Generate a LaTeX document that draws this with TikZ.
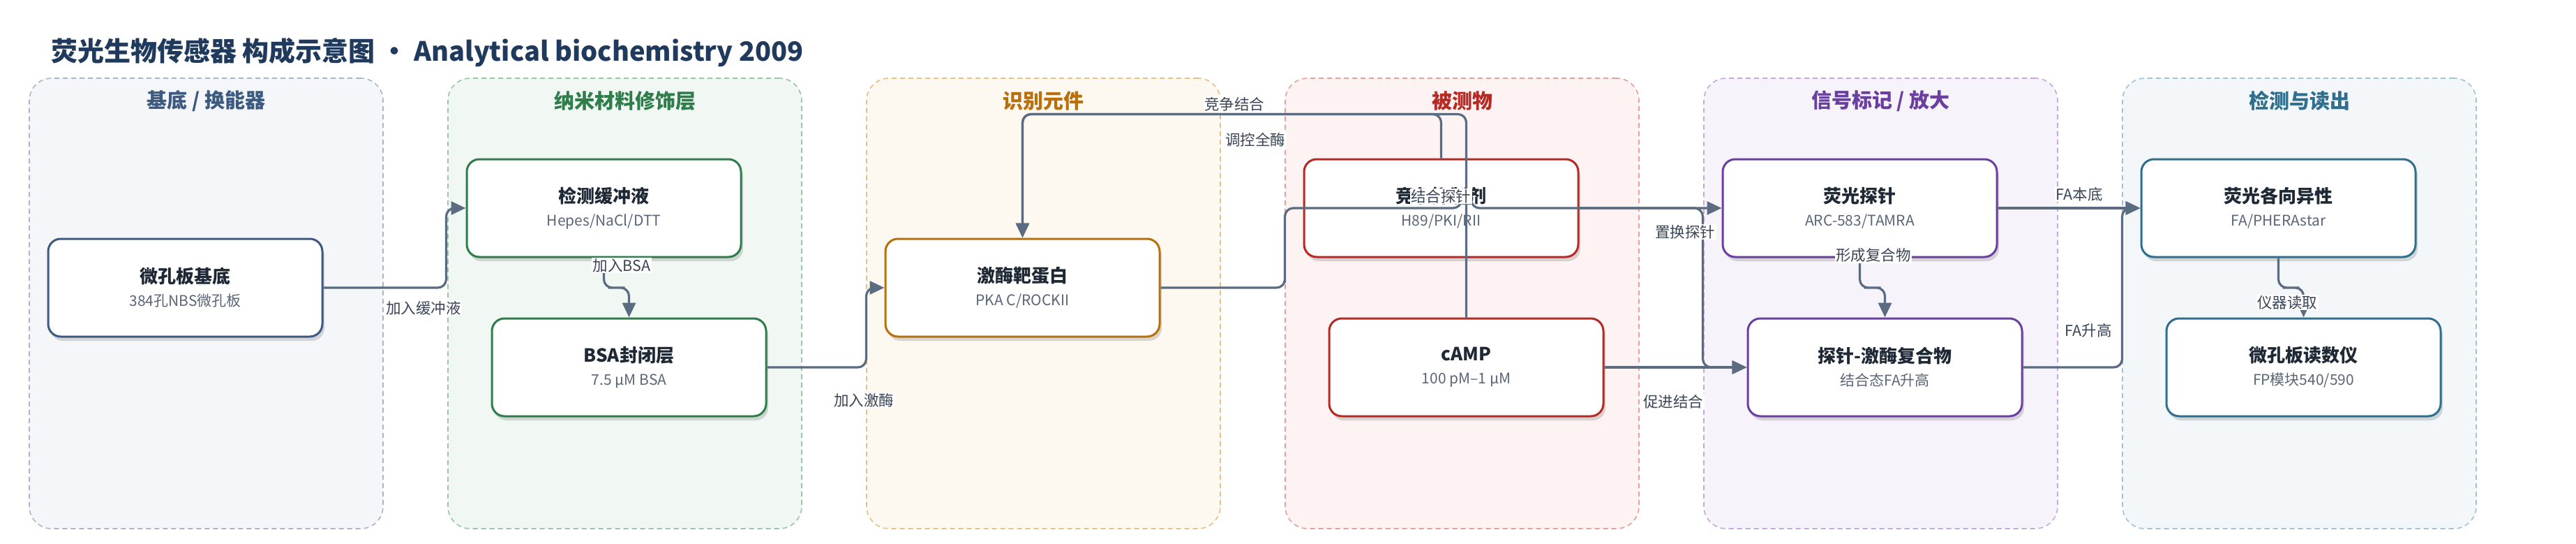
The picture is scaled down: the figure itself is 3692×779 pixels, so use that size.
\documentclass[tikz,border=0pt]{standalone}
\usepackage{fontspec}
\setmainfont{Noto Sans CJK SC}
\usetikzlibrary{arrows.meta,shadows,calc}

\definecolor{inkA}{HTML}{3D5A80}
\definecolor{fillA}{HTML}{F4F6FA}
\definecolor{dashA}{HTML}{A9B5C9}
\definecolor{inkB}{HTML}{2E7D4A}
\definecolor{fillB}{HTML}{F1F8F3}
\definecolor{dashB}{HTML}{97C7A6}
\definecolor{inkC}{HTML}{B8700C}
\definecolor{fillC}{HTML}{FDF8F0}
\definecolor{dashC}{HTML}{E8C088}
\definecolor{inkD}{HTML}{B52A25}
\definecolor{fillD}{HTML}{FDF3F2}
\definecolor{dashD}{HTML}{E5A09C}
\definecolor{inkE}{HTML}{6A3FA0}
\definecolor{fillE}{HTML}{F6F3FB}
\definecolor{dashE}{HTML}{C4A8E0}
\definecolor{inkF}{HTML}{2E6E8E}
\definecolor{fillF}{HTML}{F3F7F9}
\definecolor{dashF}{HTML}{A3C3D3}
\definecolor{headtxt}{HTML}{1F3A5C}
\definecolor{boxtxt}{HTML}{1E2935}
\definecolor{subtxt}{HTML}{5A6678}
\definecolor{wire}{HTML}{5B6B80}
\definecolor{lbltxt}{HTML}{3A4555}

\newcommand{\subln}[1]{{\mdseries\fontsize{21}{26}\selectfont\color{subtxt}#1}}

\begin{document}
\begin{tikzpicture}[x=1pt,y=-1pt,
    panel/.style={draw=dash#1,fill=fill#1,dash pattern=on 7pt off 5pt,line width=1.6pt,rounded corners=32pt,minimum width=507pt,minimum height=645pt},
    ptitle/.style={text=ink#1,font=\bfseries\fontsize{29}{34}\selectfont},
    blk/.style={draw=ink#1,fill=white,line width=3pt,rounded corners=18pt,minimum width=393pt,minimum height=140pt,align=center,text=boxtxt,font=\bfseries\fontsize{26}{30}\selectfont,drop shadow={shadow xshift=3pt,shadow yshift=-6pt,opacity=.14,fill=black}},
    link/.style={draw=wire,line width=3.2pt,rounded corners=12pt,-{Triangle[length=21pt,width=19pt]}},
    lbl/.style={fill=white,text=lbltxt,font=\fontsize{21.5}{26}\selectfont,inner sep=1.5pt}]
    \useasboundingbox (0,0) rectangle (3692,779);

    \node[anchor=west,inner sep=0pt,text=headtxt,font=\bfseries\fontsize{38}{44}\selectfont] (head) at (73,75) {荧光生物传感器 构成示意图 · Analytical biochemistry 2009};

    % columns
    \node[panel=A] (p1) at (295.5,434.5) {};
    \node[panel=B] (p2) at (895.5,434.5) {};
    \node[panel=C] (p3) at (1495.5,434.5) {};
    \node[panel=D] (p4) at (2095.5,434.5) {};
    \node[panel=E] (p5) at (2695.5,434.5) {};
    \node[panel=F] (p6) at (3295.5,434.5) {};
    \node[ptitle=A] (p1t) at ($(p1.north)+(0,33)$) {基底 / 换能器};
    \node[ptitle=B] (p2t) at ($(p2.north)+(0,33)$) {纳米材料修饰层};
    \node[ptitle=C] (p3t) at ($(p3.north)+(0,33)$) {识别元件};
    \node[ptitle=D] (p4t) at ($(p4.north)+(0,33)$) {被测物};
    \node[ptitle=E] (p5t) at ($(p5.north)+(0,33)$) {信号标记 / 放大};
    \node[ptitle=F] (p6t) at ($(p6.north)+(0,33)$) {检测与读出};

    % components
    \node[blk=A] (sub) at (265.5,412) {微孔板基底\\[3pt]\subln{384孔NBS微孔板}};
    \node[blk=B] (buf) at (865.5,298) {检测缓冲液\\[3pt]\subln{Hepes/NaCl/DTT}};
    \node[blk=B] (bsa) at (901.5,526) {BSA封闭层\\[3pt]\subln{7.5 µM BSA}};
    \node[blk=C] (kin) at (1465.5,412) {激酶靶蛋白\\[3pt]\subln{PKA C/ROCKII}};
    \node[blk=D] (inh) at (2065.5,298) {竞争抑制剂\\[3pt]\subln{H89/PKI/RII}};
    \node[blk=D] (camp) at (2101.5,526) {cAMP\\[3pt]\subln{100 pM–1 µM}};
    \node[blk=E] (probe) at (2665.5,298) {荧光探针\\[3pt]\subln{ARC-583/TAMRA}};
    \node[blk=E] (cplx) at (2701.5,526) {探针-激酶复合物\\[3pt]\subln{结合态FA升高}};
    \node[blk=F] (fa) at (3265.5,298) {荧光各向异性\\[3pt]\subln{FA/PHERAstar}};
    \node[blk=F] (rdr) at (3301.5,526) {微孔板读数仪\\[3pt]\subln{FP模块540/590}};

    \coordinate (j1) at ($(buf.west)+(-28,0)$);
    \coordinate (j2) at ($(kin.west)+(-26,0)$);
    \coordinate (j3) at ($(kin.north)+(0,-177)$);
    \coordinate (j4) at ($(kin.east)+(178,0)$);
    \coordinate (j5) at ($(cplx.west)+(-63,0)$);
    \coordinate (j6) at ($(fa.west)+(-26,0)$);
    \coordinate (hop) at ($(camp.north |- probe.west)+(-7,0)$);

    % connectors
    \draw[link] (sub.east) -| (j1) -- (buf.west);
    \draw[link] (buf.south) |- ($(buf.south)!.5!(bsa.north)$) -| (bsa.north);
    \draw[link] (bsa.east) -| (j2) -- (kin.west);
    \draw[link] (inh.north) |- (j3) -- (kin.north);
    \draw[link] (camp.north) |- (j3) -- (kin.north);
    \draw[link] (kin.east) -| (j4) |- (hop) arc[start angle=180,end angle=0,radius=7pt] -- (probe.west);
    \draw[link] (inh.east) -| (j5) -- (cplx.west);
    \draw[link] (camp.east) -- (cplx.west);
    \draw[link] (probe.south) |- ($(probe.south)!.5!(cplx.north)$) -| (cplx.north);
    \draw[link] (probe.east) -- (fa.west);
    \draw[link] (cplx.east) -| (j6) -- (fa.west);
    \draw[link] (fa.south) |- ($(fa.south)!.5!(rdr.north)$) -| (rdr.north);

    \node[lbl] (la) at (607,441) {加入缓冲液};
    \node[lbl] (lb) at (891,380) {加入BSA};
    \node[lbl] (lc) at (1238,573) {加入激酶};
    \node[lbl] (ld) at (1769,149) {竞争结合};
    \node[lbl] (le) at (1799,200) {调控全酶};
    \node[lbl] (lf) at (2065,281) {结合探针};
    \node[lbl] (lg) at (2415,332) {置换探针};
    \node[lbl] (lh) at (2398,575) {促进结合};
    \node[lbl] (li) at (2685,365) {形成复合物};
    \node[lbl] (lj) at (2980,278) {FA本底};
    \node[lbl] (lk) at (2993,473) {FA升高};
    \node[lbl] (ll) at (3278,433) {仪器读取};
\end{tikzpicture}
\end{document}
